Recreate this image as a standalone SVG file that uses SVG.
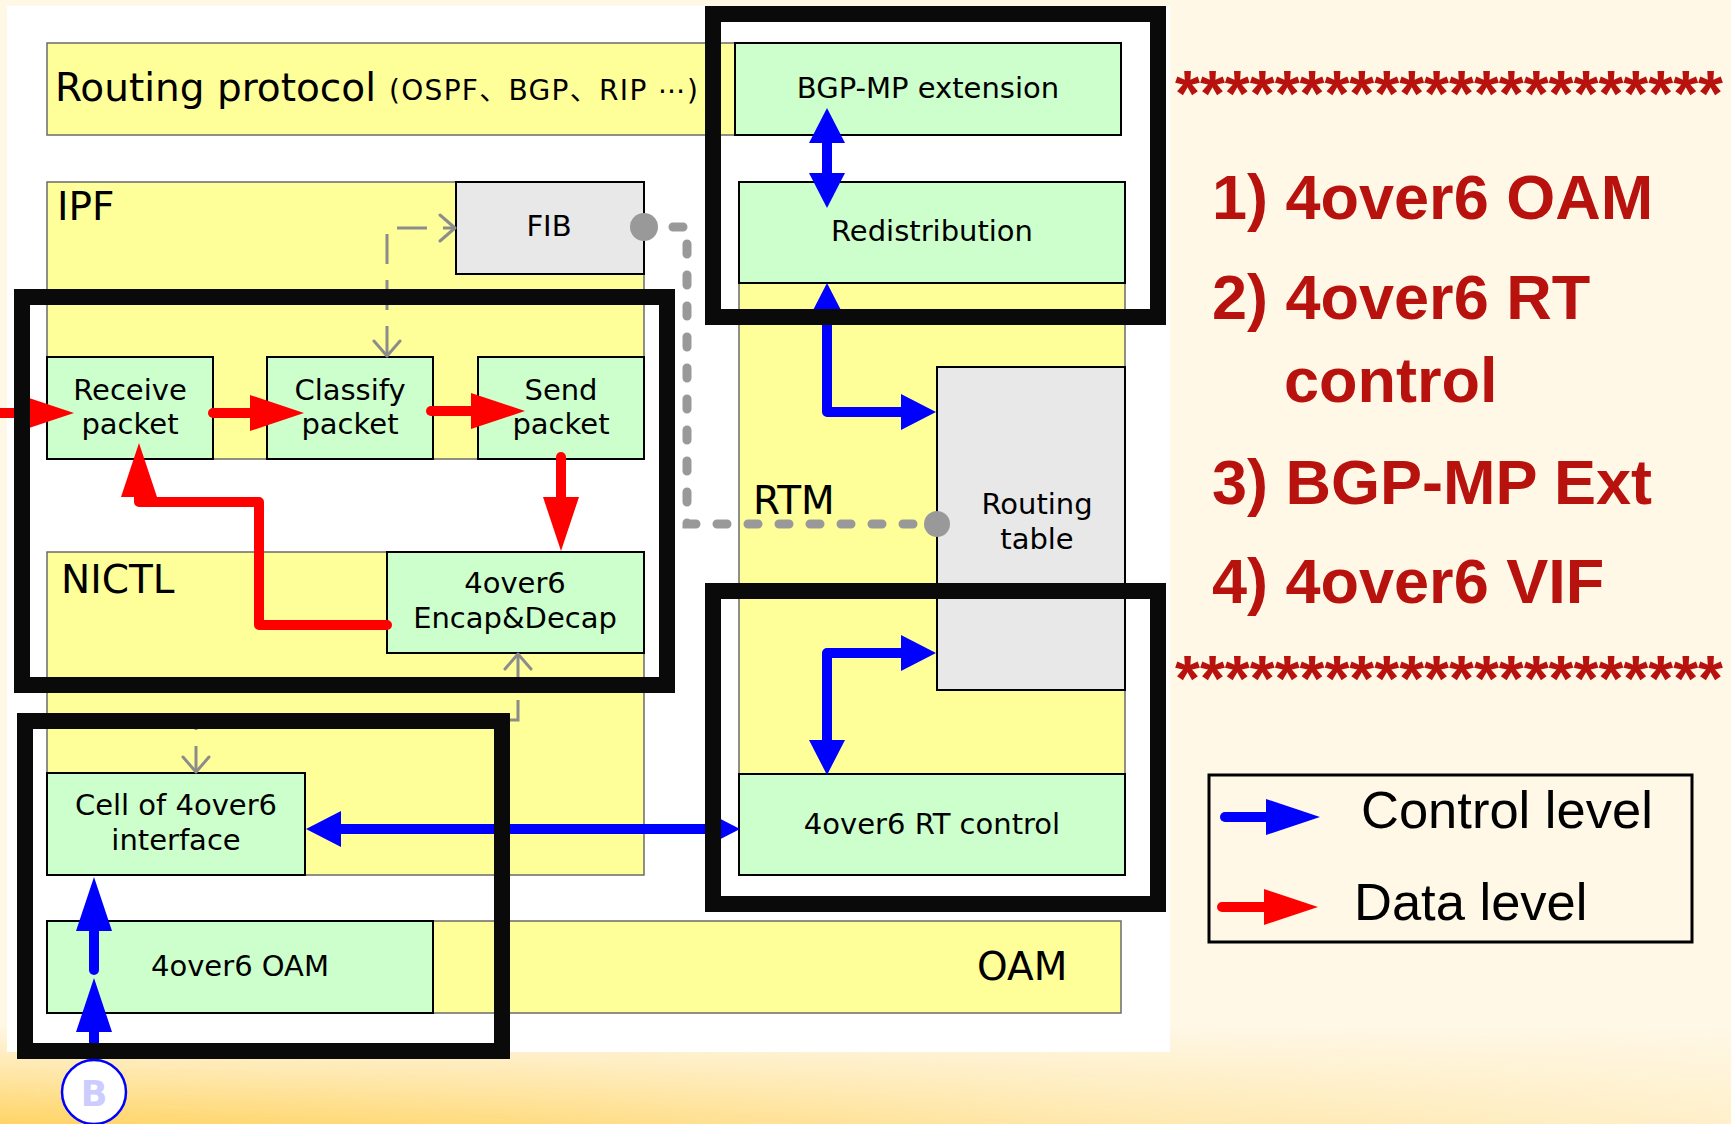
<svg xmlns="http://www.w3.org/2000/svg" width="1731" height="1124" viewBox="0 0 1731 1124">
  <style>
    .region { fill: #FFFF99; stroke: #6b6b6b; stroke-width: 1.5; }
    .box { fill: #CCFFCC; stroke: #000; stroke-width: 2; }
    .store { fill: #E8E8E8; stroke: #000; stroke-width: 2; }
    .frame { fill: none; stroke: #0A0A0A; stroke-width: 16; }
    .lbl { font-family: "DejaVu Sans", Verdana, sans-serif; font-size: 29px; fill: #000; text-anchor: middle; }
    .title { font-family: "DejaVu Sans", Verdana, sans-serif; font-size: 39px; fill: #000; }
    .data { fill: none; stroke: #FF0000; stroke-width: 10; stroke-linecap: round; stroke-linejoin: round; }
    .ctrl { fill: none; stroke: #0000FF; stroke-width: 10; stroke-linecap: round; stroke-linejoin: round; }
    .link { fill: none; stroke: #8c8c8c; stroke-width: 3; stroke-dasharray: 30 16; }
    .sync { fill: none; stroke: #999; stroke-width: 9; stroke-linecap: round; stroke-dasharray: 10 21; }
    .item { font-family: "Liberation Sans", Arial, sans-serif; font-weight: bold; font-size: 63px; fill: #B8120E; }
    .stars { font-family: "Liberation Sans", Arial, sans-serif; font-weight: bold; font-size: 64px; fill: #B8120E; }
    .legend { font-family: "Liberation Sans", Arial, sans-serif; font-size: 52.5px; fill: #000; }
  </style>
  <defs>
    <marker id="headCtrl" viewBox="0 -18 35 36" markerWidth="35" markerHeight="36" refX="0" refY="0" orient="auto-start-reverse" markerUnits="userSpaceOnUse">
      <path d="M0,-18 L35,0 L0,18 z" fill="#0000FF"/>
    </marker>
    <marker id="headCtrlLong" viewBox="0 -18 54 36" markerWidth="54" markerHeight="36" refX="0" refY="0" orient="auto-start-reverse" markerUnits="userSpaceOnUse">
      <path d="M0,-18 L54,0 L0,18 z" fill="#0000FF"/>
    </marker>
    <marker id="headData" viewBox="0 -18 54 36" markerWidth="54" markerHeight="36" refX="0" refY="0" orient="auto-start-reverse" markerUnits="userSpaceOnUse">
      <path d="M0,-18 L54,0 L0,18 z" fill="#FF0000"/>
    </marker>
    <marker id="chevron" viewBox="-17 -15 19 30" markerWidth="19" markerHeight="30" refX="0" refY="0" orient="auto-start-reverse" markerUnits="userSpaceOnUse">
      <path d="M-15,-13 L0,0 L-15,13" fill="none" stroke="#8c8c8c" stroke-width="3" stroke-linecap="round" stroke-linejoin="round"/>
    </marker>
    <linearGradient id="bandFill" x1="0" y1="0" x2="0" y2="1">
      <stop offset="0" stop-color="#FFD466" stop-opacity="0"/>
      <stop offset="1" stop-color="#FFD466" stop-opacity="1"/>
    </linearGradient>
    <linearGradient id="bandFade" x1="0" y1="0" x2="1" y2="0">
      <stop offset="0" stop-color="#fff"/>
      <stop offset="0.3" stop-color="#c8c8c8"/>
      <stop offset="0.65" stop-color="#707070"/>
      <stop offset="1" stop-color="#383838"/>
    </linearGradient>
    <mask id="bandMask" maskUnits="userSpaceOnUse" x="0" y="1000" width="1731" height="124">
      <rect x="0" y="1000" width="1731" height="124" fill="url(#bandFade)"/>
    </mask>
  </defs>

  <!-- page background -->
  <rect x="0" y="0" width="1731" height="1124" fill="#FFF8E7"/>
  <rect x="0" y="1025" width="1731" height="99" fill="url(#bandFill)" mask="url(#bandMask)"/>
  <rect x="7" y="6" width="1163" height="1046" fill="#FFFFFF"/>

  <!-- module regions -->
  <g id="routing-protocol">
    <rect class="region" x="47" y="43" width="688" height="92"/>
    <text class="title" x="55" y="101">Routing protocol</text>
    <text x="389" y="100" font-family="'DejaVu Sans', 'Noto Sans CJK SC', sans-serif" font-size="28" textLength="309" lengthAdjust="spacing">(OSPF、BGP、RIP ⋯)</text>
  </g>
  <g id="ipf">
    <rect class="region" x="47" y="182" width="597" height="277"/>
    <text class="title" x="57" y="220" font-size="41">IPF</text>
  </g>
  <g id="nictl">
    <rect class="region" x="47" y="552" width="597" height="323"/>
    <text class="title" x="61" y="593" font-size="41">NICTL</text>
  </g>
  <g id="rtm">
    <rect class="region" x="739" y="283" width="386" height="491"/>
    <text class="title" x="753" y="514" font-size="38.5">RTM</text>
  </g>
  <g id="oam">
    <rect class="region" x="47" y="921" width="1074" height="92"/>
    <text class="title" x="977" y="980" font-size="37">OAM</text>
  </g>

  <!-- functional blocks -->
  <g id="bgp-mp-extension">
    <rect class="box" x="735" y="43" width="386" height="92"/>
    <text class="lbl" x="928" y="98" font-size="30.5">BGP-MP extension</text>
  </g>
  <g id="redistribution">
    <rect class="box" x="739" y="182" width="386" height="101"/>
    <text class="lbl" x="932" y="241">Redistribution</text>
  </g>
  <g id="fib">
    <rect class="store" x="456" y="182" width="188" height="92"/>
    <text class="lbl" x="549" y="236" font-size="31">FIB</text>
  </g>
  <g id="receive-packet">
    <rect class="box" x="47" y="357" width="166" height="102"/>
    <text class="lbl" x="130" y="400">Receive</text>
    <text class="lbl" x="130" y="434">packet</text>
  </g>
  <g id="classify-packet">
    <rect class="box" x="267" y="357" width="166" height="102"/>
    <text class="lbl" x="350" y="400">Classify</text>
    <text class="lbl" x="350" y="434">packet</text>
  </g>
  <g id="send-packet">
    <rect class="box" x="478" y="357" width="166" height="102"/>
    <text class="lbl" x="561" y="400">Send</text>
    <text class="lbl" x="561" y="434">packet</text>
  </g>
  <g id="encap-decap">
    <rect class="box" x="387" y="552" width="257" height="101"/>
    <text class="lbl" x="515" y="593">4over6</text>
    <text class="lbl" x="515" y="628" font-size="28.3">Encap&amp;Decap</text>
  </g>
  <g id="routing-table">
    <rect class="store" x="937" y="367" width="188" height="323"/>
    <text class="lbl" x="1037" y="514">Routing</text>
    <text class="lbl" x="1037" y="549">table</text>
  </g>
  <g id="rt-control">
    <rect class="box" x="739" y="774" width="386" height="101"/>
    <text class="lbl" x="932" y="834" font-size="29.5">4over6 RT control</text>
  </g>
  <g id="vif-cell">
    <rect class="box" x="47" y="773" width="258" height="102"/>
    <text class="lbl" x="176" y="815">Cell of 4over6</text>
    <text class="lbl" x="176" y="850">interface</text>
  </g>
  <g id="oam-4over6">
    <rect class="box" x="47" y="921" width="386" height="92"/>
    <text class="lbl" x="240" y="976">4over6 OAM</text>
  </g>

  <!-- connectors -->
  <g id="connectors">
    <!-- lookup links -->
    <path class="link" d="M387,356 V228 H455" marker-start="url(#chevron)" marker-end="url(#chevron)"/>
    <path class="link" d="M518,654 V720 H196 V772" marker-start="url(#chevron)" marker-end="url(#chevron)"/>
    <!-- FIB / routing table synchronisation -->
    <path class="sync" d="M673,227 H687 V524 H925"/>
    <circle cx="644" cy="227" r="14" fill="#999"/>
    <circle cx="937" cy="524" r="13" fill="#999"/>
    <!-- data level -->
    <path class="data" d="M0,413 H20" marker-end="url(#headData)"/>
    <path class="data" d="M213,413 H250" marker-end="url(#headData)"/>
    <path class="data" d="M431,411 H471" marker-end="url(#headData)"/>
    <path class="data" d="M561,457 V497" marker-end="url(#headData)"/>
    <path class="data" d="M387,625 H259 V502 H139 V497" marker-end="url(#headData)"/>
    <!-- control level -->
    <path class="ctrl" d="M827,143 V173" stroke-width="9" marker-start="url(#headCtrl)" marker-end="url(#headCtrl)"/>
    <path class="ctrl" d="M827,318 V412 H901" marker-start="url(#headCtrl)" marker-end="url(#headCtrl)"/>
    <path class="ctrl" d="M827,740 V653 H901" marker-start="url(#headCtrl)" marker-end="url(#headCtrl)"/>
    <path class="ctrl" d="M341,829 H705" marker-start="url(#headCtrl)" marker-end="url(#headCtrl)"/>
    <path class="ctrl" d="M94,970 V931" marker-end="url(#headCtrlLong)"/>
    <path class="ctrl" d="M94,1058 V1032" stroke-linecap="butt" marker-end="url(#headCtrlLong)"/>
  </g>

  <!-- highlighted work areas -->
  <g id="work-areas">
    <rect class="frame" x="713" y="14" width="445" height="303"/>
    <rect class="frame" x="713" y="591" width="445" height="313"/>
    <rect class="frame" x="22" y="297" width="645" height="388"/>
    <rect class="frame" x="25" y="721" width="477" height="330"/>
  </g>

  <g id="marker-b">
    <circle cx="94" cy="1092" r="32" fill="#FFFFFF" stroke="#0000FF" stroke-width="2.5"/>
    <text x="94" y="1106" font-family="'DejaVu Sans', sans-serif" font-weight="bold" font-size="35" fill="#CCCCFF" text-anchor="middle">B</text>
  </g>

  <!-- work item list -->
  <g id="work-items">
    <text class="stars" x="1175" y="116">**********************</text>
    <text class="item" x="1212" y="219">1) 4over6 OAM</text>
    <text class="item" x="1212" y="319">2) 4over6 RT</text>
    <text class="item" x="1284" y="402">control</text>
    <text class="item" x="1212" y="504">3) BGP-MP Ext</text>
    <text class="item" x="1212" y="603">4) 4over6 VIF</text>
    <text class="stars" x="1175" y="701">**********************</text>
  </g>

  <!-- legend -->
  <g id="legend">
    <rect x="1209" y="775" width="483" height="167" fill="none" stroke="#000" stroke-width="3"/>
    <path class="ctrl" d="M1225,817 H1266" marker-end="url(#headCtrlLong)"/>
    <text class="legend" x="1361" y="828">Control level</text>
    <path class="data" d="M1222,907 H1264" marker-end="url(#headData)"/>
    <text class="legend" x="1354" y="920">Data level</text>
  </g>
</svg>
